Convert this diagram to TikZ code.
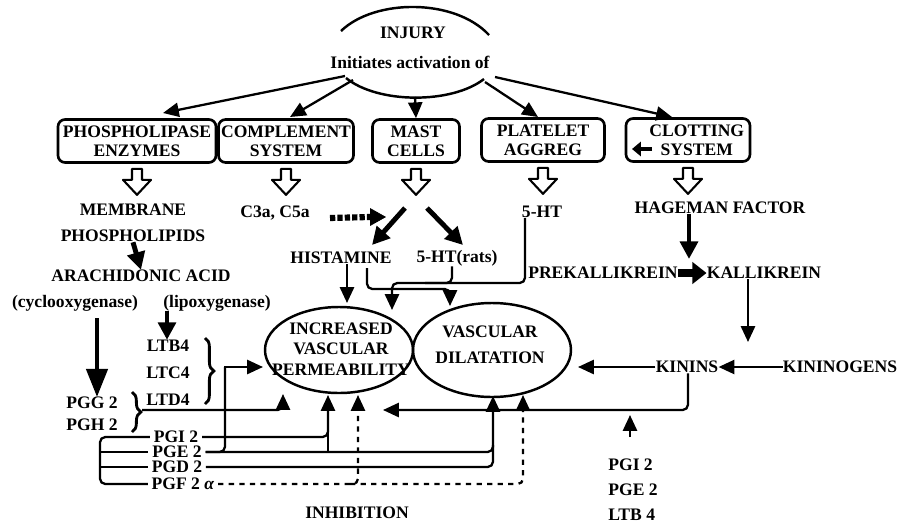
\documentclass[tikz,border=0pt]{standalone}
\usepackage{fontspec}
\setmainfont{Liberation Serif}
\usetikzlibrary{arrows.meta,calc,decorations.pathreplacing}
\tikzset{
  lbl/.style={font=\bfseries, inner sep=0pt},
  pglbl/.style={font=\bfseries, inner sep=2pt},
  boxnode/.style={draw, line width=1.5pt, rounded corners=4pt, align=center, font=\bfseries\fontsize{10}{11}\selectfont, minimum height=0.86cm, inner sep=1pt},
  arr/.style={line width=1.3pt, -{Triangle[length=9pt,width=8pt]}},
  fat/.style={line width=2.8pt, -{Triangle[length=10pt,width=10pt]}},
  wire/.style={line width=1.3pt, rounded corners=3pt},
  brc/.style={line width=1.6pt, decorate, decoration={brace, amplitude=5pt}}
}
\begin{document}
\begin{tikzpicture}[x=0.02cm, y=-0.02cm]
\useasboundingbox (0,0) rectangle (904,525);
\draw[line width=1.4pt] (341,31) .. controls (375,-1.7) and (455,-1.7) .. (489,35);
\draw[line width=1.4pt] (346,78) .. controls (378,104) and (452,104) .. (484,79);
\node[lbl] (inj) at (413,33) {INJURY};
\node[lbl] (init) at (410,62) {Initiates activation of};
\node[boxnode, minimum width=3.16cm] (phos) at (137,141) {PHOSPHOLIPASE\\ENZYMES};
\node[boxnode, minimum width=2.7cm] (comp) at (286,141) {COMPLEMENT\\SYSTEM};
\node[boxnode, minimum width=1.74cm] (mast) at (416,141) {MAST\\CELLS};
\node[boxnode, minimum width=2.46cm] (plat) at (543,140) {PLATELET\\AGGREG};
\node[boxnode, minimum width=2.48cm] (clot) at (688,140) {\hspace*{10pt}CLOTTING\\\hspace*{10pt}SYSTEM};
\draw[arr] (345,76) -- (163,113);
\draw[arr] (353,80) -- (290,117);
\draw[arr] (415,97) -- (mast.north);
\draw[arr] (485,82) -- (538,117);
\draw[arr] (495,77) -- (672,117);
\draw[line width=2.2pt, -{Triangle[length=5pt,width=8pt]}] (652,149) -- (632,149);
\foreach \b in {phos,comp,mast,plat,clot}
  \draw[line width=1.2pt, line join=round] ($(\b.south)+(-5,5)$) -- ++(10,0) -- ++(0,11) -- ++(9,0) -- ++(-14,15) -- ++(-14,-15) -- ++(9,0) -- cycle;
\node[lbl] (memb) at (133,210) {MEMBRANE};
\node[lbl] (phli) at (133,236) {PHOSPHOLIPIDS};
\node[lbl] (c3a) at (275,213) {C3a, C5a};
\node[lbl] (sht) at (542,212) {5-HT};
\node[lbl] (hag) at (720,208) {HAGEMAN FACTOR};
\node[lbl] (hist) at (341,258) {HISTAMINE};
\node[lbl] (rats) at (457,258) {5-HT(rats)};
\node[lbl] (arach) at (141,276) {ARACHIDONIC ACID};
\node[lbl] (cox) at (75,303) {(cyclooxygenase)};
\node[lbl] (lox) at (217,303) {(lipoxygenase)};
\node[lbl] (prek) at (603,273) {PREKALLIKREIN};
\node[lbl] (kall) at (764,273) {KALLIKREIN};
\node[lbl] (kin) at (687,367) {KININS};
\node[lbl] (kgen) at (840,367) {KININOGENS};
\node[lbl] (ltb) at (168,346) {LTB4};
\node[lbl] (ltc) at (168,373) {LTC4};
\node[lbl] (ltd) at (168,400) {LTD4};
\node[lbl] (pgg) at (92,403) {PGG 2};
\node[lbl] (pgh) at (92,425) {PGH 2};
\node[pglbl] (pgi) at (176,437) {PGI 2};
\node[pglbl] (pge) at (177,452) {PGE 2};
\node[pglbl] (pgd) at (177,467) {PGD 2};
\node[pglbl] (pgf) at (183,484) {PGF 2 \textit{α}};
\node[lbl, align=center, font=\bfseries\fontsize{10}{11.6}\selectfont] (incr) at (341,349) {INCREASED\\VASCULAR\\PERMEABILITY};
\node[lbl, align=center] (dil) at (490,345) {VASCULAR\\[3pt]DILATATION};
\draw[line width=1.4pt] (339,350) ellipse [x radius=74, y radius=43];
\draw[line width=1.4pt] (492,350) ellipse [x radius=79, y radius=47];
\node[lbl] (inhib) at (357,513) {INHIBITION};
\node[lbl, anchor=west] (pgi2b) at (608,465) {PGI 2};
\node[lbl, anchor=west] (pge2b) at (608,490) {PGE 2};
\node[lbl, anchor=west] (ltb4b) at (608,515) {LTB 4};
\draw[fat] (405,208) -- (372,245);
\draw[fat] (427,208) -- (463,245);
\draw[line width=3.5pt, dash pattern=on 3pt off 1.2pt] (330,218) -- (370,217);
\draw[-{Triangle[length=9pt,width=10pt]}] (368,217) -- (386,217);
\draw[fat] (phli.south) -- (arach.north);
\draw[line width=2.4pt, -{Triangle[length=16pt,width=12pt]}] (97,318) -- (97,397);
\draw[fat] (lox.south -| 167,0) -- (ltb.north -| 167,0);
\draw[brc] (205,338) -- (205,404);
\draw[brc] (132,392) -- (132,432);
\draw[arr] (hist.south -| 347,0) -- (347,303);
\draw[wire, arr] (367,268) |- (450,289) -- (450,306);
\draw[wire, arr] (sht.south -| 525,0) |- (392,283) -- (392,310);
\draw[wire] (rats.south -| 452,0) |- (425,283);
\draw[fat] (hag.south -| 689,0) -- (689,259);
\draw[line width=4pt, -{Triangle[length=8pt,width=12pt]}] (prek.east) -- (kall.west);
\draw[arr] (kall.south -| 748,0) -- (748,342);
\draw[arr] (kgen.west) -- (kin.east);
\draw[arr] (kin.west) -- (578,367);
\draw[wire, arr] (kin.south -| 688,0) |- (383,410);
\draw[arr] (630,437) -- (630,415);
\draw[wire, arr] (142,410) -| (283,394);
\draw[wire] (pgi.west) -- (100,437) -- (100,484) -- (pgf.west);
\draw[wire] (100,452) -- (pge.west);
\draw[wire] (100,467) -- (pgd.west);
\draw[wire, arr] (pgi.east) -| (328,395);
\draw[wire] (328,452) -- (328,430);
\draw[wire, arr] (pge.east) -| (493,396);
\draw[wire] (pge.east) -| (225,367);
\draw[arr] (224,367) -- (263,367);
\draw[wire] (pgd.east) -| (493,445);
\draw[wire, arr, dashed] (pgf.east) -| (358,395);
\draw[wire, arr, dashed] (350,484) -| (523,395);
\end{tikzpicture}
\end{document}
